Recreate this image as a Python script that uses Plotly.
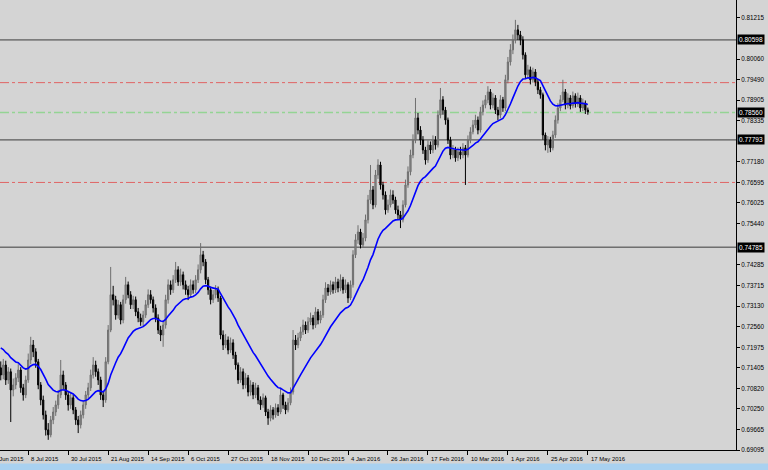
import plotly.graph_objects as go

# ---------------- data ----------------
opens = [0.7140,0.7120,0.7148,0.7106,0.7129,0.7078,0.7092,0.7112,0.7134,0.7084,0.7064,0.7106,0.7162,0.7204,0.7185,0.7157,0.7092,0.7050,0.7008,0.6966,
0.6952,0.6994,0.7016,0.7036,0.7064,0.7120,0.7092,0.7064,0.7036,0.7056,0.7022,0.6994,0.6980,0.7008,0.7036,0.7064,0.7084,0.7120,0.7148,0.7129,
0.7106,0.7064,0.7050,0.7157,0.7246,0.7345,0.7331,0.7288,0.7317,0.7274,0.7331,0.7373,0.7345,0.7317,0.7331,0.7297,0.7280,0.7269,0.7288,0.7317,
0.7345,0.7331,0.7308,0.7280,0.7246,0.7232,0.7260,0.7331,0.7373,0.7359,0.7387,0.7415,0.7381,0.7401,0.7373,0.7359,0.7345,0.7373,0.7359,0.7387,
0.7415,0.7457,0.7437,0.7387,0.7359,0.7331,0.7345,0.7359,0.7336,0.7232,0.7204,0.7218,0.7190,0.7210,0.7176,0.7148,0.7106,0.7129,0.7092,0.7112,
0.7072,0.7092,0.7064,0.7084,0.7050,0.7036,0.7056,0.7016,0.6999,0.7022,0.7008,0.7028,0.7016,0.7064,0.7036,0.7022,0.7042,0.7072,0.7218,0.7204,
0.7224,0.7241,0.7260,0.7246,0.7269,0.7280,0.7260,0.7297,0.7274,0.7288,0.7331,0.7364,0.7353,0.7373,0.7359,0.7381,0.7364,0.7387,0.7359,0.7373,
0.7336,0.7373,0.7457,0.7499,0.7521,0.7485,0.7504,0.7555,0.7611,0.7639,0.7597,0.7681,0.7709,0.7653,0.7625,0.7583,0.7597,0.7625,0.7611,0.7583,
0.7569,0.7555,0.7597,0.7653,0.7690,0.7737,0.7779,0.7841,0.7807,0.7779,0.7751,0.7723,0.7765,0.7751,0.7779,0.7765,0.7849,0.7892,0.7863,0.7835,
0.7779,0.7737,0.7751,0.7729,0.7746,0.7737,0.7757,0.7737,0.7779,0.7802,0.7821,0.7835,0.7807,0.7858,0.7877,0.7892,0.7914,0.7877,0.7897,0.7863,
0.7849,0.7892,0.7869,0.7948,0.7998,0.8032,0.8060,0.8088,0.8074,0.8060,0.8018,0.7962,0.7976,0.7948,0.7970,0.7942,0.7920,0.7906,0.7793,0.7765,
0.7779,0.7757,0.7793,0.7835,0.7869,0.7892,0.7914,0.7877,0.7897,0.7875,0.7903,0.7880,0.7897,0.7869,0.7883,0.7863]

closes = [0.7120,0.7148,0.7106,0.7129,0.7078,0.7092,0.7112,0.7134,0.7084,0.7064,0.7106,0.7162,0.7204,0.7185,0.7157,0.7092,0.7050,0.7008,0.6966,0.6952,
0.6994,0.7016,0.7036,0.7064,0.7120,0.7092,0.7064,0.7036,0.7056,0.7022,0.6994,0.6980,0.7008,0.7036,0.7064,0.7084,0.7120,0.7148,0.7129,0.7106,
0.7064,0.7050,0.7157,0.7246,0.7345,0.7331,0.7288,0.7317,0.7274,0.7331,0.7373,0.7345,0.7317,0.7331,0.7297,0.7280,0.7269,0.7288,0.7317,0.7345,
0.7331,0.7308,0.7280,0.7246,0.7232,0.7260,0.7331,0.7373,0.7359,0.7387,0.7415,0.7381,0.7401,0.7373,0.7359,0.7345,0.7373,0.7359,0.7387,0.7415,
0.7457,0.7437,0.7387,0.7359,0.7331,0.7345,0.7359,0.7336,0.7232,0.7204,0.7218,0.7190,0.7210,0.7176,0.7148,0.7106,0.7129,0.7092,0.7112,0.7072,
0.7092,0.7064,0.7084,0.7050,0.7036,0.7056,0.7016,0.6999,0.7022,0.7008,0.7028,0.7016,0.7064,0.7036,0.7022,0.7042,0.7072,0.7218,0.7204,0.7224,
0.7241,0.7260,0.7246,0.7269,0.7280,0.7260,0.7297,0.7274,0.7288,0.7331,0.7364,0.7353,0.7373,0.7359,0.7381,0.7364,0.7387,0.7359,0.7373,0.7336,
0.7373,0.7457,0.7499,0.7521,0.7485,0.7504,0.7555,0.7611,0.7639,0.7597,0.7681,0.7709,0.7653,0.7625,0.7583,0.7597,0.7625,0.7611,0.7583,0.7569,
0.7555,0.7597,0.7653,0.7690,0.7737,0.7779,0.7841,0.7807,0.7779,0.7751,0.7723,0.7765,0.7751,0.7779,0.7765,0.7849,0.7892,0.7863,0.7835,0.7779,
0.7737,0.7751,0.7729,0.7746,0.7737,0.7757,0.7737,0.7779,0.7802,0.7821,0.7835,0.7807,0.7858,0.7877,0.7892,0.7914,0.7877,0.7897,0.7863,0.7849,
0.7892,0.7869,0.7948,0.7998,0.8032,0.8060,0.8088,0.8074,0.8060,0.8018,0.7962,0.7976,0.7948,0.7970,0.7942,0.7920,0.7906,0.7793,0.7765,0.7779,
0.7757,0.7793,0.7835,0.7869,0.7892,0.7914,0.7877,0.7897,0.7875,0.7903,0.7880,0.7897,0.7869,0.7883,0.7863,0.7858]

highs = [0.7158,0.7165,0.7160,0.7142,0.7138,0.7110,0.7125,0.7150,0.7142,0.7095,0.7118,0.7180,0.7227,0.7218,0.7195,0.7165,0.7100,0.7062,0.7020,0.6985,
0.7005,0.7030,0.7048,0.7078,0.7162,0.7132,0.7100,0.7075,0.7070,0.7065,0.7030,0.7005,0.7020,0.7048,0.7075,0.7098,0.7135,0.7170,0.7160,0.7138,
0.7115,0.7075,0.7170,0.7260,0.7423,0.7370,0.7342,0.7330,0.7325,0.7345,0.7395,0.7382,0.7355,0.7342,0.7340,0.7308,0.7292,0.7300,0.7330,0.7360,
0.7358,0.7340,0.7318,0.7290,0.7258,0.7272,0.7345,0.7388,0.7385,0.7400,0.7437,0.7425,0.7418,0.7410,0.7385,0.7370,0.7388,0.7385,0.7400,0.7430,
0.7490,0.7468,0.7445,0.7395,0.7368,0.7358,0.7372,0.7368,0.7342,0.7245,0.7235,0.7228,0.7225,0.7220,0.7185,0.7155,0.7142,0.7138,0.7125,0.7120,
0.7105,0.7100,0.7098,0.7092,0.7060,0.7068,0.7062,0.7025,0.7035,0.7030,0.7040,0.7038,0.7084,0.7070,0.7045,0.7055,0.7085,0.7246,0.7232,0.7238,
0.7255,0.7275,0.7270,0.7282,0.7295,0.7288,0.7310,0.7305,0.7300,0.7345,0.7380,0.7375,0.7385,0.7382,0.7395,0.7390,0.7402,0.7395,0.7388,0.7380,
0.7385,0.7470,0.7515,0.7540,0.7530,0.7518,0.7570,0.7625,0.7709,0.7650,0.7695,0.7725,0.7718,0.7662,0.7635,0.7612,0.7640,0.7638,0.7620,0.7595,
0.7580,0.7610,0.7668,0.7705,0.7752,0.7795,0.7897,0.7855,0.7818,0.7790,0.7760,0.7778,0.7775,0.7792,0.7790,0.7862,0.7925,0.7902,0.7872,0.7842,
0.7788,0.7765,0.7760,0.7758,0.7760,0.7770,0.7765,0.7792,0.7815,0.7835,0.7850,0.7845,0.7872,0.7890,0.7905,0.7930,0.7922,0.7910,0.7905,0.7872,
0.7905,0.7900,0.7962,0.8012,0.8048,0.8075,0.8116,0.8102,0.8085,0.8070,0.8025,0.7990,0.7985,0.7982,0.7978,0.7950,0.7928,0.7912,0.7800,0.7790,
0.7788,0.7805,0.7848,0.7882,0.7905,0.7948,0.7922,0.7910,0.7905,0.7915,0.7910,0.7912,0.7905,0.7895,0.7890,0.7870]

lows = [0.7105,0.7108,0.7092,0.7095,0.6988,0.7060,0.7080,0.7100,0.7070,0.7048,0.7055,0.7098,0.7150,0.7170,0.7140,0.7080,0.7035,0.6995,0.6950,0.6938,
0.6945,0.6982,0.7005,0.7025,0.7055,0.7080,0.7050,0.7020,0.7025,0.7010,0.6980,0.6957,0.6970,0.6998,0.7025,0.7055,0.7075,0.7110,0.7115,0.7092,
0.7050,0.7030,0.7042,0.7150,0.7240,0.7315,0.7275,0.7278,0.7262,0.7265,0.7320,0.7335,0.7305,0.7305,0.7285,0.7268,0.7258,0.7255,0.7280,0.7308,
0.7320,0.7295,0.7268,0.7235,0.7215,0.7199,0.7250,0.7320,0.7345,0.7350,0.7378,0.7370,0.7370,0.7360,0.7345,0.7330,0.7338,0.7348,0.7350,0.7378,
0.7405,0.7425,0.7375,0.7345,0.7318,0.7322,0.7335,0.7325,0.7220,0.7190,0.7195,0.7178,0.7182,0.7165,0.7135,0.7095,0.7098,0.7080,0.7082,0.7060,
0.7062,0.7052,0.7055,0.7038,0.7022,0.7028,0.7005,0.6980,0.6990,0.6995,0.7000,0.7005,0.7010,0.7025,0.7010,0.7015,0.7035,0.7065,0.7190,0.7195,
0.7215,0.7232,0.7235,0.7238,0.7260,0.7248,0.7252,0.7262,0.7265,0.7280,0.7322,0.7342,0.7345,0.7348,0.7350,0.7352,0.7355,0.7348,0.7350,0.7322,
0.7330,0.7365,0.7448,0.7488,0.7475,0.7478,0.7495,0.7545,0.7600,0.7585,0.7590,0.7670,0.7640,0.7612,0.7570,0.7575,0.7590,0.7600,0.7572,0.7555,
0.7532,0.7548,0.7590,0.7645,0.7680,0.7728,0.7770,0.7795,0.7765,0.7740,0.7710,0.7715,0.7740,0.7742,0.7752,0.7758,0.7840,0.7850,0.7822,0.7768,
0.7725,0.7728,0.7718,0.7720,0.7725,0.7728,0.7653,0.7730,0.7770,0.7795,0.7812,0.7795,0.7800,0.7848,0.7868,0.7882,0.7865,0.7868,0.7852,0.7835,
0.7840,0.7858,0.7860,0.7938,0.7988,0.8020,0.8050,0.8060,0.8045,0.8005,0.7950,0.7952,0.7935,0.7940,0.7930,0.7908,0.7895,0.7780,0.7750,0.7743,
0.7745,0.7750,0.7785,0.7825,0.7860,0.7885,0.7865,0.7868,0.7865,0.7868,0.7870,0.7872,0.7858,0.7860,0.7852,0.7850]

bars = list(range(len(closes)))

date_labels = ["16 Jun 2015", "8 Jul 2015", "30 Jul 2015", "21 Aug 2015", "14 Sep 2015",
               "6 Oct 2015", "27 Oct 2015", "18 Nov 2015", "10 Dec 2015", "4 Jan 2016",
               "26 Jan 2016", "17 Feb 2016", "10 Mar 2016", "1 Apr 2016", "25 Apr 2016",
               "17 May 2016"]
date_bars = [-5, 11, 27, 43, 59, 75, 91, 107, 123, 139, 155, 171, 187, 203, 219, 235]

price_ticks = [0.81215, 0.80060, 0.79490, 0.78905, 0.78335, 0.77180, 0.76595, 0.76025,
               0.75440, 0.74285, 0.73715, 0.73130, 0.72560, 0.71975, 0.71405, 0.70820,
               0.70250, 0.69665, 0.69095]

solid_levels = [0.80598, 0.77793, 0.74785]
red_levels = [0.7940, 0.7660]
green_levels = [0.78560]
boxed_labels = [0.80598, 0.78560, 0.77793, 0.74785]

ma_period = 20
ma_seed = 0.7204

# ---------------- moving average (EMA) ----------------
alpha = 2.0 / (ma_period + 1)
ma = []
prev = ma_seed
for c in closes:
    prev = prev + alpha * (c - prev)
    ma.append(prev)

BG = "#d4d4d4"
X_RANGE = [-0.3, 294.3]
fig = go.Figure()

fig.add_trace(go.Candlestick(
    x=bars, open=opens, high=highs, low=lows, close=closes,
    increasing=dict(line=dict(color="#6f6f6f", width=1), fillcolor="#8c8c8c"),
    decreasing=dict(line=dict(color="#000000", width=1), fillcolor="#000000"),
    whiskerwidth=0, showlegend=False, hoverinfo="skip"))

fig.add_trace(go.Scatter(x=bars, y=ma, mode="lines",
                         line=dict(color="#0000ff", width=1.6),
                         showlegend=False, hoverinfo="skip"))

shapes = []
for lv in solid_levels:
    shapes.append(dict(type="line", xref="paper", x0=0, x1=1, yref="y", y0=lv, y1=lv,
                       line=dict(color="#3c3c3c", width=1), layer="below"))
for lv in red_levels:
    shapes.append(dict(type="line", xref="paper", x0=0, x1=1, yref="y", y0=lv, y1=lv,
                       line=dict(color="#e06464", width=1, dash="dashdot"), layer="below"))
for lv in green_levels:
    shapes.append(dict(type="line", xref="paper", x0=0, x1=1, yref="y", y0=lv, y1=lv,
                       line=dict(color="#94d494", width=1.5, dash="dashdot"), layer="below"))
# window frame strip at the bottom edge
shapes.append(dict(type="rect", xref="paper", yref="paper", x0=-0.01, x1=1.06,
                   y0=-0.0445, y1=-0.0300, line=dict(width=0), fillcolor="#a9d1f0"))

annotations = []
for lv in boxed_labels:
    annotations.append(dict(x=1, xref="paper", y=lv, yref="y", xanchor="left", yanchor="middle",
                            xshift=1, text=f"{lv:.5f}", showarrow=False, bgcolor="#000000",
                            font=dict(color="#ffffff", size=6.5, family="Liberation Sans"),
                            borderpad=1))
span = X_RANGE[1] - X_RANGE[0]
for lbl, b in zip(date_labels, date_bars):
    annotations.append(dict(x=(b - X_RANGE[0]) / span, xref="paper", y=0, yref="paper",
                            xanchor="left", yanchor="top",
                            xshift=1, yshift=-4, text=lbl, showarrow=False,
                            font=dict(color="#000000", size=5.9, family="Liberation Sans")))

fig.update_layout(
    width=768, height=470,
    margin=dict(l=0, r=32, t=0, b=20),
    paper_bgcolor=BG, plot_bgcolor=BG,
    shapes=shapes, annotations=annotations,
    xaxis=dict(range=X_RANGE, showgrid=False, zeroline=False,
               rangeslider=dict(visible=False),
               tickmode="array", tickvals=date_bars, showticklabels=False,
               ticks="outside", ticklen=4, tickcolor="#000000",
               showline=True, linecolor="#000000", linewidth=1),
    yaxis=dict(range=[0.69095, 0.81718], side="right", showgrid=False, zeroline=False,
               tickmode="array", tickvals=price_ticks,
               ticktext=[f"{v:.5f}" for v in price_ticks],
               ticks="outside", ticklen=3, tickcolor="#000000",
               tickfont=dict(size=6.3, color="#000000", family="Liberation Sans"),
               showline=True, linecolor="#000000", linewidth=1),
)

fig.write_html("out.html", config={"displayModeBar": False},
               post_script="document.body.style.margin='0';document.body.style.overflow='hidden';")
